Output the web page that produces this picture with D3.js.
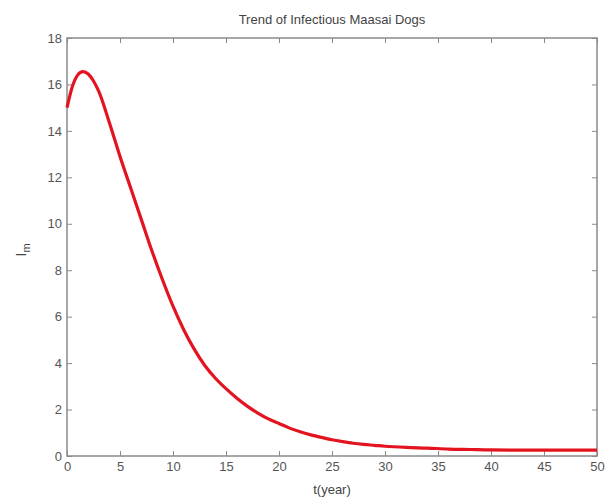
<!DOCTYPE html>
<html><head><meta charset="utf-8">
<script src="https://cdn.jsdelivr.net/npm/d3@7"></script>
<style>body{margin:0;background:#fff}svg{display:block}</style>
</head><body>
<svg id="c" width="607" height="499"></svg>
<script>
const years = [0,0.5,1,1.5,2,2.5,3,4,5,6,7,8,9,10,11,12,13,14,15,16,17,18,19,20,21,22,23,24,25,26,27,28,29,30,32,34,36,38,40,45,50];
const infected = [15.0,15.9,16.4,16.55,16.45,16.15,15.7,14.35,12.9,11.55,10.2,8.85,7.6,6.45,5.45,4.6,3.9,3.35,2.9,2.5,2.15,1.85,1.6,1.4,1.2,1.04,0.91,0.8,0.7,0.62,0.55,0.5,0.46,0.42,0.37,0.34,0.3,0.28,0.26,0.25,0.25];
const xTicks = [0,5,10,15,20,25,30,35,40,45,50];
const yTicks = [0,2,4,6,8,10,12,14,16,18];
const titleText = "Trend of Infectious Maasai Dogs";
const xLabel = "t(year)";

const m = {l:67, r:597, t:38, b:456};
const svg = d3.select("#c");
const x = d3.scaleLinear().domain([0,50]).range([m.l, m.r]);
const y = d3.scaleLinear().domain([0,18]).range([m.b, m.t]);
const axCol = "#8a8a8a", txtCol = "#555";

function styleAxis(g){
  g.select(".domain").remove();
  g.selectAll(".tick line").attr("stroke", axCol);
  g.selectAll(".tick text").attr("fill", txtCol).attr("font-family","Liberation Sans, Arial, sans-serif").attr("font-size","13px");
}
svg.append("g").attr("transform",`translate(0,${m.b})`)
  .call(d3.axisBottom(x).tickValues(xTicks).tickSize(-5).tickPadding(6)).call(styleAxis);
svg.append("g").attr("transform",`translate(${m.l},0)`)
  .call(d3.axisLeft(y).tickValues(yTicks).tickSize(-5).tickPadding(5)).call(styleAxis);
svg.append("g").attr("transform",`translate(0,${m.t})`)
  .call(d3.axisTop(x).tickValues(xTicks).tickSize(-5).tickFormat("")).call(styleAxis);
svg.append("g").attr("transform",`translate(${m.r},0)`)
  .call(d3.axisRight(y).tickValues(yTicks).tickSize(-5).tickFormat("")).call(styleAxis);

svg.append("rect").attr("x",m.l).attr("y",m.t).attr("width",m.r-m.l).attr("height",m.b-m.t)
  .attr("fill","none").attr("stroke",axCol).attr("stroke-width",1.5);

const data = years.map((t,i)=>({t, v:infected[i]}));
svg.append("path").datum(data)
  .attr("fill","none").attr("stroke","#e3141f").attr("stroke-width",3.2).attr("stroke-linejoin","round")
  .attr("d", d3.line().x(d=>x(d.t)).y(d=>y(d.v)).curve(d3.curveMonotoneX));

svg.append("text").attr("x",(m.l+m.r)/2).attr("y",24).attr("text-anchor","middle")
  .attr("fill","#444").attr("font-family","Liberation Sans, Arial, sans-serif").attr("font-size","13px").text(titleText);
svg.append("text").attr("x",(m.l+m.r)/2 - 0).attr("y",494).attr("text-anchor","middle")
  .attr("fill","#444").attr("font-family","Liberation Sans, Arial, sans-serif").attr("font-size","13px").text(xLabel);
const yl = svg.append("text").attr("transform","translate(26,250) rotate(-90)").attr("text-anchor","middle")
  .attr("fill","#444").attr("font-family","Liberation Sans, Arial, sans-serif").attr("font-size","15px");
yl.append("tspan").text("I");
yl.append("tspan").attr("font-size","11px").attr("dy",4).text("m");
</script>
</body></html>
